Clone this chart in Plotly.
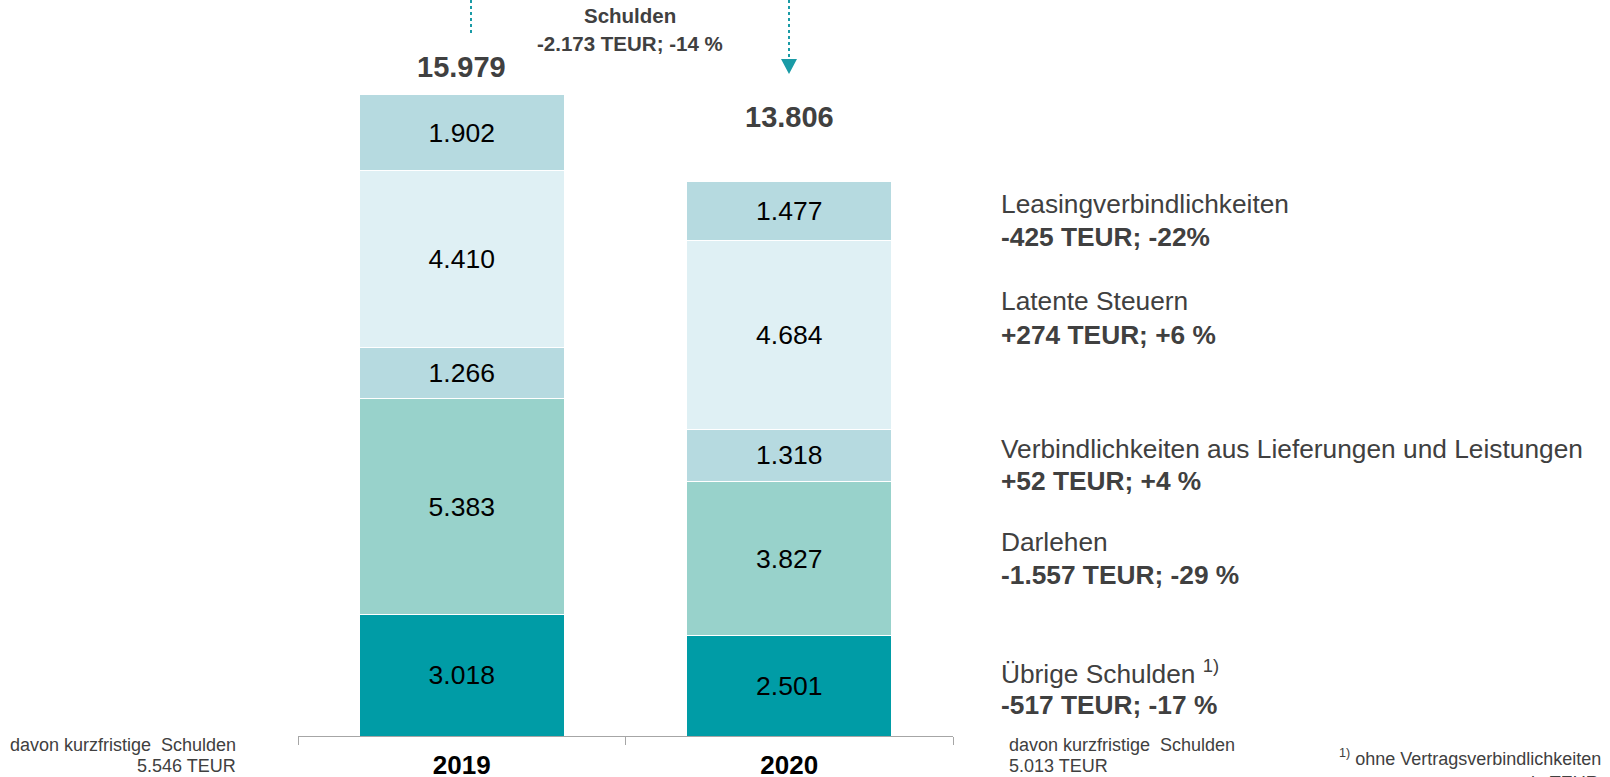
import plotly.graph_objects as go

years = ["2019", "2020"]
series_names = ["Übrige Schulden", "Darlehen", "Verbindlichkeiten aus Lieferungen und Leistungen",
                "Latente Steuern", "Leasingverbindlichkeiten"]
uebrige = [3018, 2501]
darlehen = [5383, 3827]
lieferungen = [1266, 1318]
latente = [4410, 4684]
leasing = [1902, 1477]
totals = [15979, 13806]
colors = ["#009CA6", "#98D2CB", "#B6DAE0", "#DFF0F4", "#B6DAE0"]

right_titles = ["Leasingverbindlichkeiten", "Latente Steuern",
                "Verbindlichkeiten aus Lieferungen und Leistungen", "Darlehen",
                "Übrige Schulden <sup>1)</sup>"]
right_changes = ["-425 TEUR; -22%", "+274 TEUR; +6 %", "+52 TEUR; +4 %",
                 "-1.557 TEUR; -29 %", "-517 TEUR; -17 %"]

W, H = 1610, 777
L, R = 298, 953
T, B = 0, 736
YMAX = (B - T) / 0.04015

def fmt(v):
    return f"{v:,}".replace(",", ".")

def px(x):
    return (x - L) / (R - L)

def py(y):
    return (B - y) / (B - T)

FONT = "Liberation Sans, Arial, sans-serif"
TXT = "#404040"
fig = go.Figure()
for name, vals, col in zip(series_names, [uebrige, darlehen, lieferungen, latente, leasing], colors):
    fig.add_trace(go.Bar(
        x=years, y=vals, name=name, width=0.626,
        marker=dict(color=col, line=dict(color="white", width=1)),
        text=[fmt(v) for v in vals], textposition="inside", insidetextanchor="middle",
        textfont=dict(family=FONT, size=26.5, color="#000000"),
        constraintext="none", hoverinfo="skip"))

ann = []
# totals above the bars
shifts = [27, 65]
sums = [sum(v) for v in zip(uebrige, darlehen, lieferungen, latente, leasing)]
for i, t in enumerate(totals):
    ann.append(dict(x=i, y=sums[i], xref="x", yref="y", text=f"<b>{fmt(t)}</b>",
                    showarrow=False, yshift=shifts[i], yanchor="middle",
                    font=dict(family=FONT, size=29, color=TXT)))

# right-side annotations
title_y = [204, 301, 449, 542, 672]
change_y = [237, 335, 481, 575, 705]
for t, c, ty, cy in zip(right_titles, right_changes, title_y, change_y):
    ann.append(dict(x=px(999), y=py(ty), xref="paper", yref="paper", text=t, showarrow=False,
                    xanchor="left", yanchor="middle", font=dict(family=FONT, size=26.3, color=TXT)))
    ann.append(dict(x=px(999), y=py(cy), xref="paper", yref="paper", text=f"<b>{c}</b>", showarrow=False,
                    xanchor="left", yanchor="middle", font=dict(family=FONT, size=26.3, color=TXT)))

# top change label
ann.append(dict(x=px(630), y=py(16), xref="paper", yref="paper", text="<b>Schulden</b>", showarrow=False,
                xanchor="center", yanchor="middle", font=dict(family=FONT, size=20.5, color=TXT)))
ann.append(dict(x=px(630), y=py(43), xref="paper", yref="paper", text="<b>-2.173 TEUR; -14 %</b>", showarrow=False,
                xanchor="center", yanchor="middle", font=dict(family=FONT, size=20.5, color=TXT)))

# bottom texts
small = dict(family=FONT, size=18, color=TXT)
ann.append(dict(x=px(238), y=py(745), xref="paper", yref="paper", text="davon kurzfristige  Schulden",
                showarrow=False, xanchor="right", yanchor="middle", font=small))
ann.append(dict(x=px(238), y=py(766), xref="paper", yref="paper", text="5.546 TEUR",
                showarrow=False, xanchor="right", yanchor="middle", font=small))
ann.append(dict(x=px(1007), y=py(745), xref="paper", yref="paper", text="davon kurzfristige  Schulden",
                showarrow=False, xanchor="left", yanchor="middle", font=small))
ann.append(dict(x=px(1007), y=py(766), xref="paper", yref="paper", text="5.013 TEUR",
                showarrow=False, xanchor="left", yanchor="middle", font=small))
ann.append(dict(x=px(1603), y=py(757), xref="paper", yref="paper",
                text="<sup>1)</sup> ohne Vertragsverbindlichkeiten",
                showarrow=False, xanchor="right", yanchor="middle", font=small))
ann.append(dict(x=px(1601), y=py(783), xref="paper", yref="paper", text="in TEUR",
                showarrow=False, xanchor="right", yanchor="middle", font=small))

shapes = [
    dict(type="line", xref="paper", yref="paper", x0=px(471), x1=px(471), y0=py(0), y1=py(33),
         line=dict(color="#1A9BA6", width=2, dash="dot")),
    dict(type="line", xref="paper", yref="paper", x0=px(789), x1=px(789), y0=py(0), y1=py(60),
         line=dict(color="#1A9BA6", width=2, dash="dot")),
    dict(type="path", xref="paper", yref="paper",
         path=f"M {px(781)},{py(59)} L {px(797)},{py(59)} L {px(789)},{py(74)} Z",
         fillcolor="#1A9BA6", line=dict(width=0)),
]

fig.update_layout(
    barmode="stack", width=W, height=H, showlegend=False,
    margin=dict(l=L, r=W - R, t=T, b=H - B, pad=0, autoexpand=False),
    paper_bgcolor="white", plot_bgcolor="white",
    annotations=ann, shapes=shapes,
    xaxis=dict(type="category", range=[-0.5, 1.5], showline=True, linecolor="#A6A6A6", linewidth=1,
               ticks="outside", tickson="boundaries", ticklen=8, tickcolor="#A6A6A6",
               tickfont=dict(family=FONT, size=26, color="#000000"), ticklabelstandoff=6,
               automargin=False,
               tickvals=years, ticktext=[f"<b>{y}</b>" for y in years], showgrid=False),
    yaxis=dict(range=[0, YMAX], visible=False, showgrid=False, automargin=False),
)
fig.write_html("out.html", config={"displayModeBar": False},
               post_script="document.body.style.margin='0px';")
